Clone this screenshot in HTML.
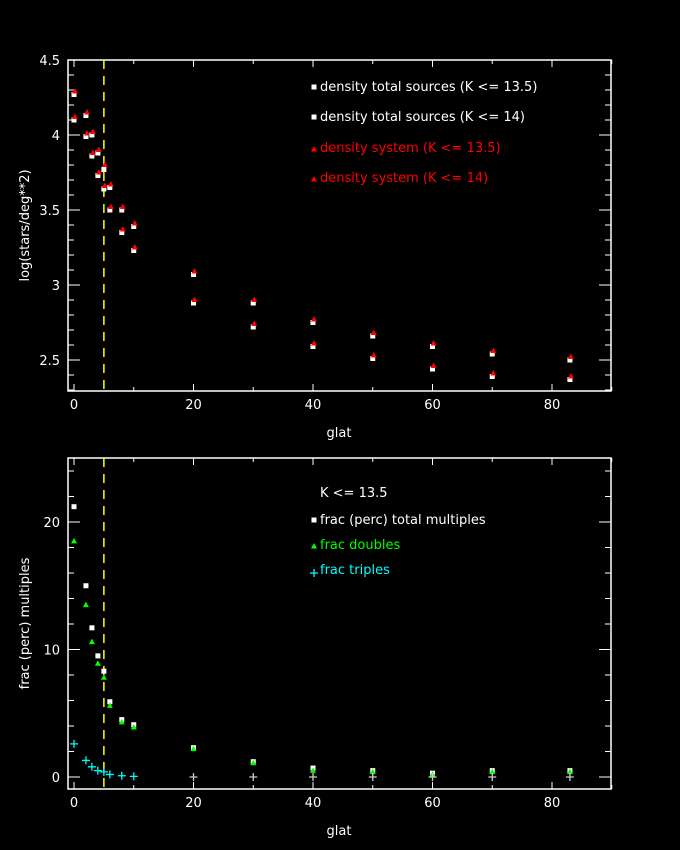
<!DOCTYPE html>
<html><head><meta charset="utf-8"><style>
html,body{margin:0;padding:0;background:#000;}
svg{display:block;}
text{font-family:"DejaVu Sans","Liberation Sans",sans-serif;font-size:13px;fill:#fff;}
</style></head><body>
<svg id="c" width="680" height="850" viewBox="0 0 680 850"></svg>
<script>
const glat=[0,2,3,4,5,6,8,10,20,30,40,50,60,70,83];
const denTot135=[4.10,3.99,3.86,3.73,3.64,3.50,3.35,3.23,2.88,2.72,2.59,2.51,2.44,2.39,2.37];
const denTot14=[4.27,4.13,4.00,3.88,3.77,3.65,3.50,3.39,3.07,2.88,2.75,2.66,2.59,2.54,2.50];
const denSys135=[4.11,4.00,3.87,3.74,3.65,3.51,3.36,3.24,2.89,2.73,2.60,2.52,2.45,2.40,2.38];
const denSys14=[4.28,4.14,4.01,3.89,3.79,3.66,3.51,3.40,3.08,2.89,2.76,2.67,2.60,2.55,2.51];
const fracTot=[21.2,15.0,11.7,9.5,8.3,5.9,4.5,4.1,2.3,1.2,0.7,0.5,0.3,0.5,0.5];
const fracDbl=[18.6,13.6,10.7,9.0,7.9,5.7,4.4,4.0,2.3,1.2,0.6,0.5,0.3,0.5,0.5];
const fracTri=[2.6,1.3,0.8,0.5,0.4,0.2,0.1,0.05,0,0,0,0,0,0,0];
const xTicks=[0,20,40,60,80];
const yTicksTop=[2.5,3,3.5,4,4.5];
const yTicksBot=[0,10,20];

const svg=document.getElementById('c');
const NS='http://www.w3.org/2000/svg';
function mk(tag,attrs,parent){const e=document.createElementNS(NS,tag);for(const k in attrs)e.setAttribute(k,attrs[k]);(parent||svg).appendChild(e);return e;}
const X0=68,X1=611;
const xs=v=>74+v*5.975;
function panel(name,top,bot,ys,yMin,yMax,yMinor,yTicks,ylabel){
  const g=mk('g',{});
  
  
  const fr=mk('rect',{x:X0,y:top,width:X1-X0,height:bot-top,fill:'none',stroke:'#fff','stroke-width':1.5},g);
  
  
  for(let v=0;v<=90;v+=10){const big=v%20===0;const x=xs(v);
    mk('line',{x1:x,x2:x,y1:bot,y2:bot-(big?7:4),stroke:'#fff'},g);
    mk('line',{x1:x,x2:x,y1:top,y2:top+(big?7:4),stroke:'#fff'},g);}
  xTicks.forEach(v=>{const t=mk('text',{x:xs(v),y:bot+18,'text-anchor':'middle'},g);t.textContent=v;
    
    });
  for(let v=yMin;v<=yMax+1e-9;v+=yMinor){const y=ys(v);const big=yTicks.some(t=>Math.abs(t-v)<1e-6);
    mk('line',{x1:X0,x2:X0+(big?12:6),y1:y,y2:y,stroke:'#fff'},g);
    mk('line',{x1:X1,x2:X1-(big?12:6),y1:y,y2:y,stroke:'#fff'},g);}
  yTicks.forEach(v=>{const t=mk('text',{x:X0-8,y:ys(v)+5,'text-anchor':'end'},g);t.textContent=v;
    
    });
  const xl=mk('text',{x:339,y:bot+46,'text-anchor':'middle'},g);xl.textContent='glat';
  
  
  const yl=mk('text',{x:0,y:0,'text-anchor':'middle',transform:`translate(29,${(top+bot)/2}) rotate(-90)`},g);yl.textContent=ylabel;
  
  
  const vl=mk('line',{x1:xs(5),x2:xs(5),y1:top,y2:bot,stroke:'#ff0','stroke-dasharray':'9,7','stroke-width':1.5},g);
  
  
  return g;
}
function sq(g,x,y,c,n){const r=mk('rect',{x:x-2.5,y:y-2.5,width:5,height:5,fill:c},g);}
function tri(g,x,y,c,n){const p=mk('polygon',{points:`${x-3},${y+2.5} ${x+3},${y+2.5} ${x},${y-3}`,fill:c},g);}
function plus(g,x,y,c,n){const p=mk('path',{d:`M${x-4},${y}H${x+4}M${x},${y-4}V${y+4}`,stroke:c,'stroke-width':1.3},g);}
function legend(g,x,y,txt,c,kind){const lg=mk('g',{},g);
  if(kind==='sq')sq(lg,x-6,y-4,'#fff','legend-marker');else if(kind==='tri')tri(lg,x-6,y-3,c,'legend-marker');else if(kind==='plus')plus(lg,x-6,y-1,c,'legend-marker');
  const t=mk('text',{x:x,y:y},lg);t.textContent=txt;t.style.fill=c;}

// top
const yt=v=>360-(v-2.5)*150;
const g1=panel('density-panel',60,391,yt,2.3,4.5,0.1,yTicksTop,'log(stars/deg**2)');
glat.forEach((g,i)=>{
  sq(g1,xs(g),yt(denTot135[i]),'#fff','point-total-135');
  sq(g1,xs(g),yt(denTot14[i]),'#fff','point-total-14');
  tri(g1,xs(g)+1,yt(denSys135[i])-2,'#f00','point-system-135');
  tri(g1,xs(g)+1,yt(denSys14[i])-2,'#f00','point-system-14');
});
legend(g1,320,91,'density total sources (K <= 13.5)','#fff','sq');
legend(g1,320,121,'density total sources (K <= 14)','#fff','sq');
legend(g1,320,152,'density system (K <= 13.5)','#f00','tri');
legend(g1,320,182,'density system (K <= 14)','#f00','tri');

// bottom
const yb=v=>777-v*12.75;
const g2=panel('multiples-panel',458,789,yb,0,24,2,yTicksBot,'frac (perc) multiples');
glat.forEach((g,i)=>{
  sq(g2,xs(g),yb(fracTot[i]),'#fff','point-total-multiples');
  tri(g2,xs(g),yb(fracDbl[i])+1,'#0f0','point-doubles');
  plus(g2,xs(g),yb(fracTri[i]),g>=20?'#ccc':'#0ff','point-triples');
});
legend(g2,320,497,'K <= 13.5','#fff','none');
legend(g2,320,524,'frac (perc) total multiples','#fff','sq');
legend(g2,320,549,'frac doubles','#0f0','tri');
legend(g2,320,574,'frac triples','#0ff','plus');
</script>
</body></html>
